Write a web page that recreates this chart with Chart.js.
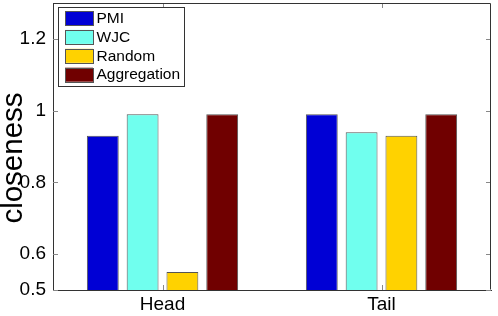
<!DOCTYPE html>
<html>
<head>
<meta charset="utf-8">
<script src="https://cdn.jsdelivr.net/npm/chart.js@4/dist/chart.umd.min.js"></script>
<style>
  html, body { margin: 0; padding: 0; background: #fff; }
  #wrap { width: 498px; height: 316px; }
</style>
</head>
<body>
<div id="wrap"><canvas id="chart" width="498" height="316"></canvas></div>
<script>
const categories = ["Head", "Tail"];
const seriesNames = ["PMI", "WJC", "Random", "Aggregation"];
const pmi = [0.93, 0.99];
const wjc = [0.99, 0.94];
const random = [0.55, 0.93];
const aggregation = [0.99, 0.99];
const yTicks = [0.5, 0.6, 0.8, 1, 1.2];
const colors = ["#0000d5", "#70ffee", "#ffd200", "#700000"];

const FONT = "'Liberation Sans', Arial, Helvetica, sans-serif";

// box, inner tick marks, y title and legend drawn like the matlab figure
const matlabFrame = {
  id: "matlabFrame",
  afterDraw(chart) {
    const { ctx, chartArea: a, scales } = chart;
    ctx.save();

    ctx.strokeStyle = "#888";
    ctx.lineWidth = 1;
    ctx.beginPath();
    yTicks.forEach((v) => {
      const y = Math.round(scales.y.getPixelForValue(v)) + 0.5;
      ctx.moveTo(a.left, y); ctx.lineTo(a.left + 5, y);
      ctx.moveTo(a.right, y); ctx.lineTo(a.right - 5, y);
    });
    categories.forEach((c, i) => {
      const x = Math.round(scales.x.getPixelForValue(i)) + 0.5;
      ctx.moveTo(x, a.bottom); ctx.lineTo(x, a.bottom - 5);
      ctx.moveTo(x, a.top); ctx.lineTo(x, a.top + 5);
    });
    ctx.stroke();

    ctx.strokeStyle = "#333";
    ctx.beginPath();
    ctx.moveTo(Math.round(a.left) + 0.5, Math.round(a.top) + 0.5);
    ctx.lineTo(Math.round(a.right) - 0.5, Math.round(a.top) + 0.5);
    ctx.lineTo(Math.round(a.right) - 0.5, Math.round(a.bottom) - 0.5);
    ctx.stroke();

    // y title
    ctx.fillStyle = "#000";
    ctx.font = "29.5px " + FONT;
    ctx.textAlign = "center";
    ctx.textBaseline = "alphabetic";
    ctx.translate(21.5, 158);
    ctx.rotate(-Math.PI / 2);
    ctx.fillText("closeness", 0, 0);
    ctx.setTransform(1, 0, 0, 1, 0, 0);

    // legend
    const lx = 58.5, ly = 7.5, lw = 126, lh = 79;
    ctx.fillStyle = "#fff";
    ctx.fillRect(lx, ly, lw, lh);
    ctx.strokeStyle = "#333";
    ctx.strokeRect(lx, ly, lw, lh);
    ctx.font = "15.5px " + FONT;
    ctx.textAlign = "left";
    ctx.textBaseline = "middle";
    chart.data.datasets.forEach((ds, i) => {
      const sy = 11 + i * 18.9;
      ctx.fillStyle = ds.backgroundColor;
      ctx.fillRect(65, sy, 28, 14);
      ctx.strokeStyle = "#555";
      ctx.strokeRect(65.5, Math.round(sy) + 0.5, 28, 14);
      ctx.fillStyle = "#000";
      ctx.fillText(ds.label, 96.5, sy + 7.5);
    });
    ctx.restore();
  }
};

new Chart(document.getElementById("chart"), {
  type: "bar",
  data: {
    labels: categories,
    datasets: [pmi, wjc, random, aggregation].map((d, i) => ({
      label: seriesNames[i],
      data: d,
      backgroundColor: colors[i],
      borderColor: "#555",
      borderWidth: 1,
      categoryPercentage: 0.727,
      barPercentage: 0.8,
    })),
  },
  options: {
    responsive: false,
    animation: false,
    layout: { padding: { top: 3, right: 7, left: 0, bottom: 0 } },
    plugins: { legend: { display: false }, tooltip: { enabled: false } },
    scales: {
      x: {
        offset: true,
        grid: { display: false, drawTicks: false },
        border: { display: true, color: "#333", width: 1 },
        ticks: { color: "#000", font: { family: FONT, size: 19 }, padding: 3 },
        afterFit: (s) => { s.height = 26; s.paddingLeft = 0; s.paddingRight = 0; },
      },
      y: {
        min: 0.5,
        max: 1.3,
        grid: { display: false, drawTicks: false },
        border: { display: true, color: "#333", width: 1 },
        afterBuildTicks: (s) => { s.ticks = yTicks.map((v) => ({ value: v })); },
        ticks: {
          color: "#000",
          font: { family: FONT, size: 19 },
          padding: 7,
          callback: (v) => String(v),
        },
        afterFit: (s) => { s.width = 53; s.paddingTop = 0; s.paddingBottom = 0; },
      },
    },
  },
  plugins: [matlabFrame],
});
</script>
</body>
</html>
